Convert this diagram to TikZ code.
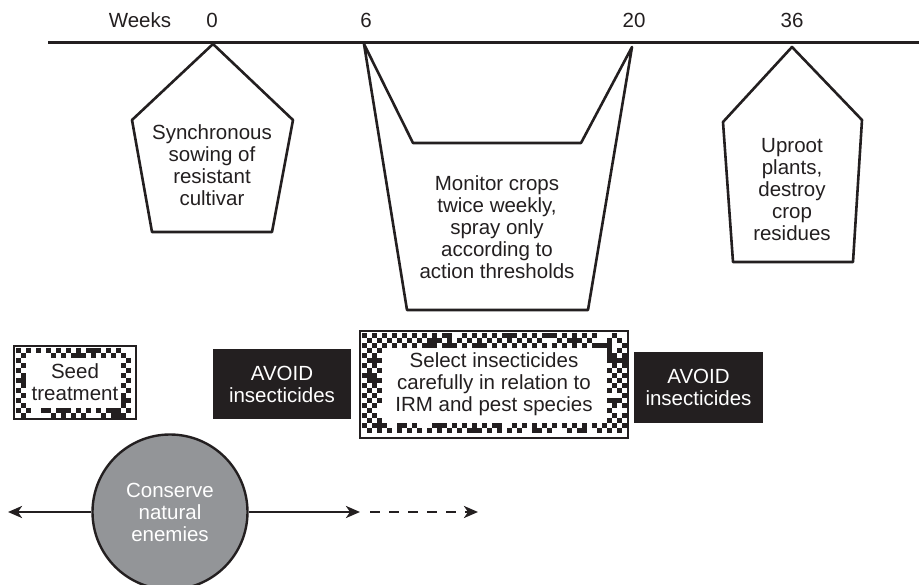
\documentclass[tikz,border=0pt]{standalone}
\usepackage{fontspec}
\setmainfont{Liberation Sans}
\usetikzlibrary{arrows.meta}
\definecolor{ink}{HTML}{231F20}
\definecolor{enemy}{HTML}{939598}

\tikzset{
  lbl/.style={font=\fontsize{20.5}{22}\selectfont, text=ink, align=center, inner sep=0pt},
  outline/.style={draw=ink, line width=2.6pt, line join=round},
  darkbox/.style={lbl, fill=ink, text=white, rectangle},
  specklebox/.style={lbl, draw=ink, line width=1.8pt, rectangle},
  arrowline/.style={draw=ink, line width=2.6pt, -{Stealth[length=14pt,width=12pt,inset=4pt]}},
}

% speckled frame: #1 seed, #2-#5 outer box, #6-#9 clear inner area
\newcommand{\speckle}[9]{%
  \pgfmathsetseed{#1}%
  \pgfmathtruncatemacro\spnx{floor((#4-#2-3)/5)-1}%
  \pgfmathtruncatemacro\spny{floor((#5-#3-3)/5)-1}%
  \foreach \i in {0,...,\spnx}{%
    \foreach \j in {0,...,\spny}{%
      \pgfmathsetmacro\spx{#2+2+5*\i}%
      \pgfmathsetmacro\spy{#3+2+5*\j}%
      \pgfmathtruncatemacro\spin{and(and(\spx+4>#6,\spx<#8),and(\spy+4>#7,\spy<#9))}%
      \pgfmathtruncatemacro\spev{mod(\i+\j,2)}%
      \pgfmathsetmacro\spr{rnd}%
      \ifnum\spev=0 \def\spth{0.88}\else\def\spth{0.1}\fi
      \pgfmathtruncatemacro\spon{\spr<\spth}%
      \ifnum\spin=0 \ifnum\spon=1 \fill[ink] (\spx,\spy) rectangle ++(4.6,4.6);\fi\fi
    }%
  }%
}

\begin{document}
\begin{tikzpicture}[x=1pt,y=-1pt]
\useasboundingbox (0,0) rectangle (919,585);

% time axis
\draw[draw=ink, line width=3pt] (48,43) coordinate (axstart) -- (919,43) coordinate (axend);
\node[lbl] (weeks) at (140,20) {Weeks};
\node[lbl] (w0) at (212,20) {0};
\node[lbl] (w6) at (366,20) {6};
\node[lbl] (w20) at (634,20) {20};
\node[lbl] (w36) at (792,20) {36};

% sowing pentagon
\draw[outline] (213,44) -- (293,120) -- (272,232) -- (152,232) -- (132,120) -- cycle;
\node[lbl] (sowing) at (212,165) {Synchronous\\sowing of\\resistant\\cultivar};

% monitoring bucket
\draw[outline] (364,44) -- (407,310) -- (588,310) -- (632,47) -- (581,143) -- (413,143) -- cycle;
\node[lbl] (monitor) at (497,227) {Monitor crops\\twice weekly,\\spray only\\according to\\action thresholds};

% uproot pentagon
\draw[outline] (792,47) -- (862,120) -- (853,262) -- (733,262) -- (723,122) -- cycle;
\node[lbl] (uproot) at (792,190) {Uproot\\plants,\\destroy\\crop\\residues};

% insecticide boxes
\speckle{7}{14}{346}{136}{419}{29}{361}{121}{404}
\node[specklebox, minimum width=122pt, minimum height=73pt] (seed) at (75,382.5) {Seed\\treatment};

\node[darkbox, minimum width=138pt, minimum height=70pt] (avoidA) at (282,384) {AVOID\\insecticides};

\speckle{11}{360}{331}{628}{438}{384}{348}{605}{421}
\node[specklebox, minimum width=268pt, minimum height=107pt] (select) at (494,384.5) {Select insecticides\\carefully in relation to\\IRM and pest species};

\node[darkbox, minimum width=129pt, minimum height=71pt] (avoidB) at (698.5,387.5) {AVOID\\insecticides};

% natural enemies
\node[lbl, circle, fill=enemy, draw=ink, line width=2.4pt, minimum size=155pt, text=white] (enemies) at (170,512) {Conserve\\natural\\enemies};
\coordinate (leftend) at (8,512);
\coordinate (solidend) at (360,512);
\coordinate (dashstart) at (370,512);
\coordinate (dashend) at (478,512);
\draw[arrowline] (enemies.west) -- (leftend);
\draw[arrowline] (enemies.east) -- (solidend);
\draw[arrowline, dash pattern=on 10pt off 9pt] (dashstart) -- (dashend);
\end{tikzpicture}
\end{document}
